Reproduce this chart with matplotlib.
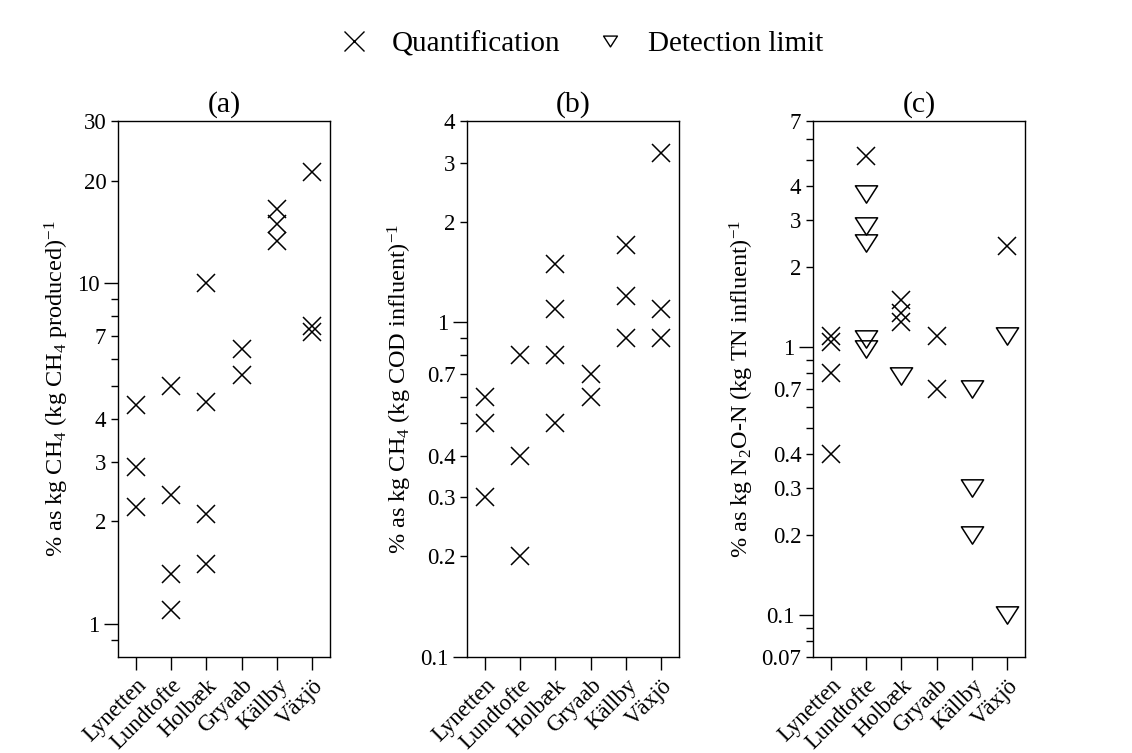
import matplotlib
matplotlib.use("Agg")
import matplotlib.pyplot as plt
from matplotlib.lines import Line2D
from matplotlib.path import Path
import numpy as np

plt.rcParams['font.family'] = ['Liberation Serif', 'DejaVu Serif']
plt.rcParams['mathtext.fontset'] = 'custom'
plt.rcParams['mathtext.rm'] = 'Liberation Serif'
plt.rcParams['mathtext.it'] = 'Liberation Serif:italic'
plt.rcParams['mathtext.bf'] = 'Liberation Serif:bold'

sites = ['Lynetten', 'Lundtofte', 'Holbæk', 'Gryaab', 'Källby', 'Växjö']

# Panel (a): CH4 as % of CH4 produced
a_quant_site = ['Lynetten'] * 3 + ['Lundtofte'] * 4 + ['Holbæk'] * 4 + ['Gryaab'] * 2 + ['Källby'] * 3 + ['Växjö'] * 3
a_quant_val = [4.4, 2.9, 2.2, 5.0, 2.4, 1.4, 1.1, 10.0, 4.5, 2.1, 1.5, 6.4, 5.4, 16.5, 15.0, 13.3, 21.2, 7.5, 7.2]

# Panel (b): CH4 as % of COD influent
b_quant_site = ['Lynetten'] * 3 + ['Lundtofte'] * 3 + ['Holbæk'] * 4 + ['Gryaab'] * 2 + ['Källby'] * 3 + ['Växjö'] * 3
b_quant_val = [0.6, 0.5, 0.3, 0.8, 0.4, 0.2, 1.5, 1.1, 0.8, 0.5, 0.7, 0.6, 1.7, 1.2, 0.9, 3.2, 1.1, 0.9]

# Panel (c): N2O-N as % of TN influent
c_quant_site = ['Lynetten'] * 4 + ['Lundtofte'] + ['Holbæk'] * 3 + ['Gryaab'] * 2 + ['Växjö']
c_quant_val = [1.1, 1.05, 0.8, 0.4, 5.2, 1.5, 1.35, 1.25, 1.1, 0.7, 2.4]
c_detect_site = ['Lundtofte'] * 5 + ['Holbæk'] + ['Källby'] * 3 + ['Växjö'] * 2
c_detect_val = [3.75, 2.85, 2.45, 1.08, 0.99, 0.78, 0.7, 0.3, 0.2, 1.1, 0.1]

titles = ['(a)', '(b)', '(c)']
ylabels = [r'% as kg CH$_4$ (kg CH$_4$ produced)$^{-1}$',
           r'% as kg CH$_4$ (kg COD influent)$^{-1}$',
           r'% as kg N$_2$O-N (kg TN influent)$^{-1}$']
ylims = [(0.8, 30), (0.1, 4), (0.07, 7)]
major_ticks = [[1, 10], [0.1, 1], [0.1, 1]]
minor_ticks = [[0.9, 2, 3, 4, 5, 6, 7, 8, 9, 20, 30],
               [0.2, 0.3, 0.4, 0.5, 0.6, 0.7, 0.8, 0.9, 2, 3, 4],
               [0.07, 0.08, 0.09, 0.2, 0.3, 0.4, 0.5, 0.6, 0.7, 0.8, 0.9, 2, 3, 4, 5, 6, 7]]
minor_labels = [['', '2', '3', '4', '', '', '7', '', '', '20', '30'],
                ['0.2', '0.3', '0.4', '', '', '0.7', '', '', '2', '3', '4'],
                ['0.07', '', '', '0.2', '0.3', '0.4', '', '', '0.7', '', '', '2', '3', '4', '', '', '7']]
major_labels = [['1', '10'], ['0.1', '1'], ['0.1', '1']]

tri = Path([(-1, 0.78), (1, 0.78), (0, -0.78), (-1, 0.78)],
           [Path.MOVETO, Path.LINETO, Path.LINETO, Path.CLOSEPOLY])

fig = plt.figure(figsize=(11.32, 7.53), dpi=100)
lefts = [118 / 1132, 467 / 1132, 813 / 1132]
width = 212 / 1132
bottom = 1 - 657 / 753
height = (657 - 121) / 753

quant = [(a_quant_site, a_quant_val), (b_quant_site, b_quant_val), (c_quant_site, c_quant_val)]
detect = [None, None, (c_detect_site, c_detect_val)]

for i in range(3):
    ax = fig.add_axes([lefts[i], bottom, width, height])
    ax.set_yscale('log')
    qs, qv = quant[i]
    ax.plot([sites.index(s) for s in qs], qv, linestyle='none', marker='x',
            markersize=13.5, markeredgewidth=1.1, color='black')
    if detect[i] is not None:
        ds, dv = detect[i]
        ax.plot([sites.index(s) for s in ds], dv, linestyle='none', marker=tri,
                markersize=16, markeredgewidth=1.1, markerfacecolor='none',
                markeredgecolor='black')
    ax.set_xlim(-0.5, 5.5)
    ax.set_ylim(*ylims[i])
    ax.set_yticks(major_ticks[i], major_labels[i])
    ax.set_yticks(minor_ticks[i], minor_labels[i], minor=True)
    ax.set_xticks(range(len(sites)))
    ax.set_xticklabels(sites, rotation=45, ha='right', rotation_mode='anchor', fontsize=16.5)
    ax.tick_params(axis='y', which='major', length=10, width=1, labelsize=16.5, direction='out')
    ax.tick_params(axis='y', which='minor', length=5, width=1, labelsize=16.5, direction='out')
    ax.tick_params(axis='x', which='major', length=9, width=1, direction='out', pad=4)
    for sp in ax.spines.values():
        sp.set_linewidth(1.0)
    ax.set_title(titles[i], fontsize=21.5, pad=7)
    ax.set_ylabel(ylabels[i], fontsize=17.5, labelpad=4)

handles = [Line2D([], [], linestyle='none', marker='x', markersize=14, markeredgewidth=1.0, color='black'),
           Line2D([], [], linestyle='none', marker=tri, markersize=10, markeredgewidth=1.0,
                  markerfacecolor='none', markeredgecolor='black')]
fig.legend(handles, ['Quantification', 'Detection limit'], loc='center', ncol=2,
           bbox_to_anchor=(0.512, 1 - 44 / 753), frameon=False, fontsize=21,
           handletextpad=0.7, columnspacing=1.1, handlelength=1.2)

fig.savefig('out.png', dpi=100)
